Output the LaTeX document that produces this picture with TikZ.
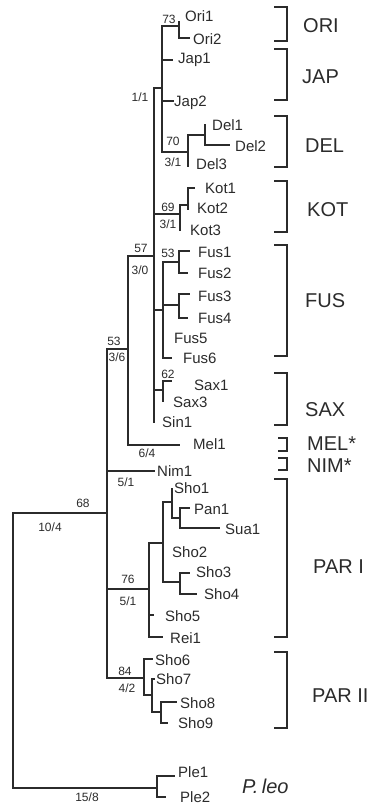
\documentclass[tikz,border=0pt]{standalone}
\usepackage{fontspec}
\setmainfont{Liberation Sans}
\usetikzlibrary{positioning}
\definecolor{ink}{HTML}{2B2B2B}

\begin{document}
\begin{tikzpicture}[x=1pt,y=-1pt,
 br/.style={draw=ink,line width=1.1pt},
 taxon/.style={anchor=base west,inner sep=0pt,text=ink,font=\fontsize{15}{15}\selectfont},
 bs/.style={inner sep=0pt,text=ink,font=\fontsize{12}{12}\selectfont},
 grp/.style={anchor=base west,inner sep=0pt,text=ink,font=\fontsize{20}{20}\selectfont}]
\useasboundingbox (0,0) rectangle (372,807);
\coordinate (root) at (13,650);
\coordinate (n68) at (107,513);
\coordinate (n53) at (128,349);
\coordinate (n57) at (154,256);
\coordinate (n11) at (162,88);
\coordinate (ori) at (179,26);
\coordinate (ori1) at (179,21);
\coordinate (ori2) at (190,38);
\coordinate (jap1) at (173,60);
\coordinate (jap2) at (174,101);
\coordinate (del) at (188,152);
\coordinate (del12) at (205,135);
\coordinate (del1) at (205,124);
\coordinate (del2) at (230,145);
\coordinate (del3) at (188,167);
\coordinate (kot) at (180,214);
\coordinate (kot12) at (188,205);
\coordinate (kot1) at (195,188);
\coordinate (kot2) at (188,210);
\coordinate (kot3) at (180,231);
\coordinate (fus) at (163,310);
\coordinate (fus12) at (179,262);
\coordinate (fus1) at (190,251);
\coordinate (fus2) at (188,273);
\coordinate (fus34) at (179,305);
\coordinate (fus3) at (190,294);
\coordinate (fus4) at (188,318);
\coordinate (fus6) at (172,358);
\coordinate (sax) at (163,390);
\coordinate (sax1) at (172,381);
\coordinate (sax3) at (163,402);
\coordinate (sin1) at (154,423);
\coordinate (mel1) at (180,445);
\coordinate (nim1) at (155,471);
\coordinate (par1) at (149,589);
\coordinate (pa) at (163,543);
\coordinate (pb) at (172,502);
\coordinate (sho1) at (172,488);
\coordinate (pd) at (180,518);
\coordinate (pan1) at (190,508);
\coordinate (sua1) at (220,528);
\coordinate (pc) at (180,582);
\coordinate (sho3) at (190,573);
\coordinate (sho4) at (197,594);
\coordinate (sho5) at (154,615);
\coordinate (rei1) at (163,637);
\coordinate (par2) at (144,678);
\coordinate (sho6) at (153,659);
\coordinate (pe) at (152,695);
\coordinate (sho7) at (155,679);
\coordinate (pf) at (161,712);
\coordinate (sho8) at (177,702);
\coordinate (sho9) at (168,723);
\coordinate (ple) at (157,788);
\coordinate (ple1) at (175,776);
\coordinate (ple2) at (166,797);
\foreach \p/\c in {root/n68,root/ple,n68/n53,n68/nim1,n68/par1,n68/par2,
  n53/n57,n53/mel1,n57/n11,n57/kot,n57/fus,n57/sax,n57/sin1,
  n11/ori,n11/jap1,n11/jap2,n11/del,ori/ori1,ori/ori2,
  del/del12,del/del3,del12/del1,del12/del2,kot/kot12,kot/kot3,kot12/kot1,kot12/kot2,
  fus/fus12,fus/fus34,fus/fus6,fus12/fus1,fus12/fus2,fus34/fus3,fus34/fus4,
  sax/sax1,sax/sax3,par1/pa,par1/sho5,par1/rei1,pa/pb,pa/pc,pb/sho1,pb/pd,
  pd/pan1,pd/sua1,pc/sho3,pc/sho4,par2/sho6,par2/pe,pe/sho7,pe/pf,pf/sho8,pf/sho9,
  ple/ple1,ple/ple2}
  \draw[br] (\p) |- (\c);
\foreach \n/\x/\y in {Ori1/185/21,Ori2/193/44,Jap1/178/63,Jap2/174/106,
  Del1/212/130,Del2/235/151,Del3/196/169,Kot1/205/193,Kot2/197/213,Kot3/190/235,
  Fus1/198/257,Fus2/198/278,Fus3/198/301,Fus4/198/323,Fus5/174/343,Fus6/183/363,
  Sax1/194/390,Sax3/173/407,Sin1/162/427,Mel1/193/449,Nim1/157/476,
  Sho1/174/493,Pan1/194/514,Sua1/225/534,Sho2/172/557,Sho3/196/577,Sho4/204/599,
  Sho5/165/621,Rei1/170/643,Sho6/155/665,Sho7/156/684,Sho8/180/708,Sho9/178/728,
  Ple1/178/777,Ple2/180/802}
  \node[taxon] (t-\n) at (\x,\y) {\n};
\foreach \v/\x/\y [count=\i] in {73/169/19,{1/1}/140/97,70/173/141,{3/1}/173/162,
  69/168/207,{3/1}/168/224,57/141/248,{3/0}/140/270,53/168/253,53/114/341,
  {3/6}/117/357,62/168/374,{6/4}/147/453,{5/1}/126/482,68/83/503,{10/4}/50/527,
  76/128/579,{5/1}/128/601,84/125/671,{4/2}/127/688,{15/8}/87/797}
  \node[bs] (s\i) at (\x,\y) {\v};
\foreach \a/\b/\l in {7/41/274,49/100/274,116/167/274,181/232/274,245/356/274,
  373/425/274,438/451/278,458/470/278,479/637/274,652/728/274}
  \draw[br] (\l,\a) -- (287,\a) -- (287,\b) -- (\l,\b);
\foreach \g/\x/\y [count=\i] in {ORI/303/32,JAP/302/83,DEL/305/152,KOT/307/216,
  FUS/305/307,SAX/305/416,MEL*/307/450,NIM*/307/472,PAR I/313/573,PAR II/312/702}
  \node[grp] (g\i) at (\x,\y) {\g};
\node[grp,font=\fontsize{20}{20}\selectfont\itshape] (pleo) at (242,793) {P.\,leo};
\end{tikzpicture}
\end{document}
